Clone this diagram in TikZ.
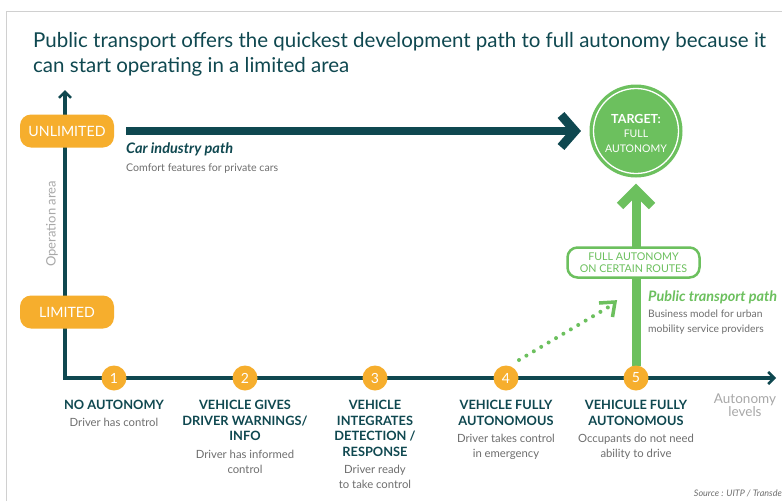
\documentclass[tikz,border=0pt]{standalone}
\usepackage{fontspec}
\setmainfont{Lato}
\usetikzlibrary{arrows.meta,calc}
\definecolor{dteal}{HTML}{0F4850}
\definecolor{lorange}{HTML}{F6AE2D}
\definecolor{lgreen}{HTML}{6CC05E}
\definecolor{dgray}{HTML}{6E6E6E}
\definecolor{lgray}{HTML}{A8A8A8}
\definecolor{frame}{HTML}{D0D0D0}
\tikzset{
  pill/.style={fill=lorange, rounded corners=11pt, minimum width=94pt, minimum height=33pt, text=white, inner sep=0pt, font=\fontsize{14.2}{14}\selectfont},
  lvl/.style={circle, fill=lorange, minimum size=25pt, inner sep=0pt, text=white, font=\fontsize{14}{14}\selectfont},
  head/.style={anchor=north, align=center, text=dteal, font=\bfseries\fontsize{12.8}{15.5}\selectfont, inner sep=0pt},
  desc/.style={anchor=north, align=center, text=dgray, font=\fontsize{11.3}{15}\selectfont, inner sep=0pt},
  axis/.style={dteal, line width=3.5pt},
}
\begin{document}
\begin{tikzpicture}[x=1pt,y=-1pt]
\useasboundingbox (0,0) rectangle (782,501);
\fill[white] (0,0) rectangle (782,501);
\draw[frame, line width=1.5pt] (6.5,501) -- (6.5,11.5) -- (782,11.5);

% title
\node[anchor=base west, inner sep=0pt, text=dteal, font=\fontsize{20.5}{24}\selectfont] (t1) at (33,47) {Public transport offers the quickest development path to full autonomy because it};
\node[anchor=base west, inner sep=0pt, text=dteal, font=\fontsize{20.5}{24}\selectfont] (t2) at (33,72) {can start operating in a limited area};

% axes
\coordinate (ytop) at (65,90);
\coordinate (orig) at (65,378);
\coordinate (xend) at (776,378);
\draw[axis, {Straight Barb[length=6pt,width=12pt,line width=2.5pt]}-{Straight Barb[length=6pt,width=12pt,line width=2.5pt]}] (ytop) -- (orig) -- (xend);

\node[pill] (unl) at (67,131) {UNLIMITED};
\node[pill] (lim) at (67,312) {LIMITED};
\node[rotate=90, text=lgray, font=\fontsize{13}{14}\selectfont] (oparea) at (52,224) {Operation area};

% car industry path
\coordinate (cs) at (126,131);
\coordinate (ce) at (575,131);
\draw[dteal, line width=8pt] (cs) -- (ce);
\draw[dteal, line width=9pt, line join=miter] ($(ce)+(-14,-16)$) -- (ce) -- ($(ce)+(-14,16)$);
\node[anchor=base west, inner sep=0pt, text=dteal, font=\bfseries\itshape\fontsize{14.5}{14}\selectfont] (cip) at (126,153) {Car industry path};
\node[anchor=base west, inner sep=0pt, text=dgray, font=\fontsize{10.6}{12}\selectfont] (cipd) at (126,171) {Comfort features for private cars};

% target
\node[circle, fill=lgreen, minimum size=93pt, inner sep=0pt] (target) at (636,131) {};
\draw[white, line width=1.3pt] (target.center) circle (42.5);
\node[align=center, text=white, inner sep=0pt, font=\fontsize{10.5}{14.5}\selectfont] at (636,133) {{\bfseries\fontsize{12.5}{14.5}\selectfont TARGET:}\\FULL\\AUTONOMY};

% public transport path
\coordinate (ps) at (636,366);
\coordinate (pe) at (636,190);
\draw[lgreen, line width=9pt] (ps) -- (pe);
\draw[lgreen, line width=9pt, line join=miter] ($(pe)+(-16,16)$) -- (pe) -- ($(pe)+(16,16)$);
\node[draw=lgreen, line width=2.5pt, fill=white, rounded corners=10pt, minimum width=132pt, minimum height=30pt, align=center, text=lgreen, inner sep=0pt, font=\fontsize{10.7}{12}\selectfont] (routes) at (633.5,262.5) {FULL AUTONOMY\\ON CERTAIN ROUTES};
\node[anchor=base west, inner sep=0pt, text=lgreen, font=\bfseries\itshape\fontsize{14.4}{14}\selectfont] (ptp) at (648,301) {Public transport path};
\node[anchor=north west, align=left, inner sep=0pt, text=dgray, font=\fontsize{10.3}{14.5}\selectfont] (ptpd) at (648,310) {Business model for urban\\mobility service providers};

% levels
\node[lvl] (l1) at (114,378) {1};
\node[lvl] (l2) at (245,378) {2};
\node[lvl] (l3) at (375,378) {3};
\node[lvl] (l4) at (506,378) {4};
\node[lvl] (l5) at (636,378) {5};

% dotted arrow
\coordinate (ds) at (519,360);
\coordinate (de) at (612,305);
\draw[lgreen, line width=4pt, line cap=round, dash pattern=on 0pt off 8.6pt] (ds) -- (de);
\draw[lgreen, line width=3.5pt, line join=miter] (599,303) -- (615,302) -- (612.5,317);

% labels
\node[head] (h1) at (114,400) {NO AUTONOMY};
\node[desc] (d1) at (114,418) {Driver has control};
\node[head] (h2) at (245,400) {VEHICLE GIVES\\DRIVER WARNINGS/\\INFO};
\node[desc] (d2) at (245,450) {Driver has informed\\control};
\node[head] (h3) at (375,400) {VEHICLE\\INTEGRATES\\DETECTION /\\RESPONSE};
\node[desc] (d3) at (375,465) {Driver ready\\to take control};
\node[head] (h4) at (506,400) {VEHICLE FULLY\\AUTONOMOUS};
\node[desc] (d4) at (506,434) {Driver takes control\\in emergency};
\node[head] (h5) at (636,400) {VEHICULE FULLY\\AUTONOMOUS};
\node[desc] (d5) at (636,434) {Occupants do not need\\ability to drive};

\node[align=center, text=lgray, inner sep=0pt, font=\fontsize{13.5}{9.5}\selectfont] (autl) at (745,405) {Autonomy\\levels};
\node[anchor=base east, inner sep=0pt, text=dgray, font=\itshape\fontsize{9}{10}\selectfont] (src) at (782,496) {Source : UITP / Transde};
\end{tikzpicture}
\end{document}
